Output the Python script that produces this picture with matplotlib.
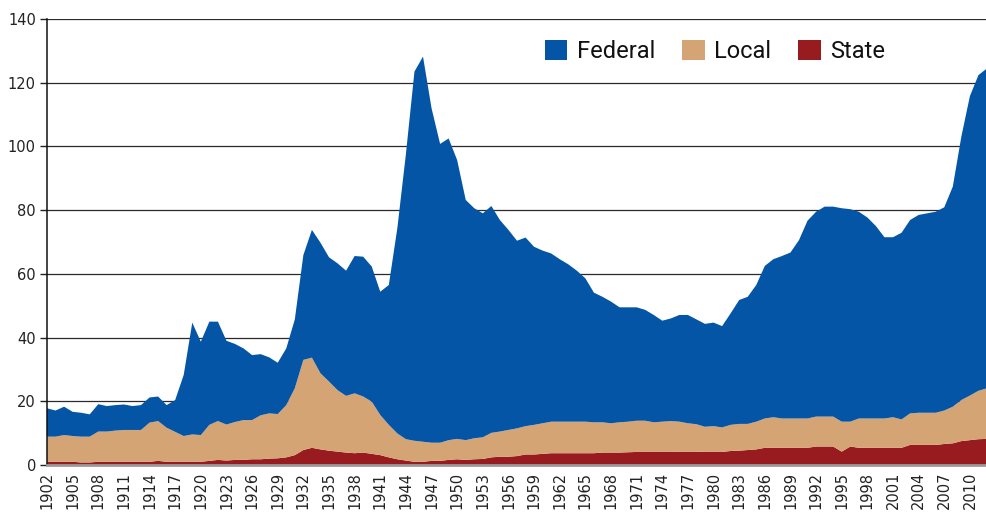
"""
Government debt by level (% of GDP), stacked area chart 1902-2012.
"""

import matplotlib
matplotlib.use('Agg')
import matplotlib.pyplot as plt
import numpy as np

years = list(range(1902, 2013))

state = [1.0, 1.0, 1.0, 1.0, 0.8, 0.8, 1.0, 1.0, 1.0, 1.0,
         1.0, 1.0, 1.0, 1.3, 1.0, 1.0, 1.0, 1.0, 1.0, 1.3,
         1.6, 1.4, 1.6, 1.6, 1.8, 1.8, 2.0, 2.1, 2.4, 3.1,
         4.7, 5.4, 4.9, 4.5, 4.2, 3.9, 3.7, 3.9, 3.5, 3.1,
         2.4, 1.8, 1.4, 1.0, 1.0, 1.3, 1.3, 1.6, 1.8, 1.6,
         1.8, 1.9, 2.4, 2.6, 2.6, 2.8, 3.3, 3.3, 3.5, 3.7,
         3.7, 3.7, 3.7, 3.7, 3.7, 3.9, 3.9, 3.9, 4.0, 4.1,
         4.1, 4.1, 4.1, 4.1, 4.2, 4.2, 4.2, 4.1, 4.1, 4.1,
         4.4, 4.5, 4.7, 4.9, 5.4, 5.4, 5.4, 5.4, 5.4, 5.4,
         5.8, 5.8, 5.8, 4.2, 5.8, 5.4, 5.4, 5.4, 5.4, 5.4,
         5.4, 6.3, 6.3, 6.3, 6.3, 6.6, 6.8, 7.5, 7.8, 8.1,
         8.2]

local = [7.9, 7.9, 8.4, 8.1, 8.1, 8.1, 9.5, 9.5, 9.8, 10.0,
         10.0, 10.0, 12.3, 12.5, 10.7, 9.4, 8.1, 8.6, 8.4, 11.3,
         12.2, 11.3, 11.9, 12.5, 12.3, 13.8, 14.2, 13.9, 16.4, 21.0,
         28.3, 28.3, 23.9, 21.7, 19.3, 17.8, 18.8, 17.6, 16.4, 12.6,
         10.2, 8.1, 6.7, 6.6, 6.3, 5.7, 5.7, 6.2, 6.4, 6.2,
         6.6, 6.8, 7.7, 7.9, 8.4, 8.7, 8.9, 9.3, 9.6, 9.9,
         9.9, 9.9, 9.9, 9.9, 9.7, 9.5, 9.2, 9.5, 9.6, 9.8,
         9.8, 9.3, 9.5, 9.7, 9.4, 8.9, 8.6, 7.9, 8.1, 7.7,
         8.2, 8.4, 8.2, 8.7, 9.2, 9.6, 9.2, 9.2, 9.2, 9.2,
         9.4, 9.4, 9.4, 9.4, 7.8, 9.2, 9.2, 9.2, 9.2, 9.6,
         8.9, 9.9, 10.1, 10.1, 10.1, 10.5, 11.5, 12.9, 14.0, 15.2,
         15.9]

federal = [8.9, 8.2, 8.9, 7.6, 7.5, 7.0, 8.6, 8.0, 8.0, 8.0,
           7.5, 7.8, 7.9, 7.7, 7.1, 10.0, 19.2, 35.1, 29.3, 32.4,
           31.2, 26.3, 24.5, 22.5, 20.4, 19.2, 17.6, 16.1, 17.8, 21.6,
           32.9, 40.1, 41.0, 39.0, 39.8, 39.3, 43.1, 43.9, 42.4, 38.7,
           43.9, 64.5, 89.5, 115.9, 120.9, 105.0, 93.8, 94.7, 87.5, 75.4,
           72.2, 70.3, 71.2, 66.4, 62.8, 58.9, 59.2, 55.9, 54.2, 52.8,
           51.0, 49.4, 47.4, 45.0, 40.7, 39.4, 38.2, 36.1, 35.9, 35.6,
           34.8, 33.7, 31.7, 32.2, 33.5, 34.0, 32.9, 32.3, 32.5, 31.8,
           35.0, 38.9, 39.9, 42.9, 47.9, 49.6, 51.0, 52.1, 56.0, 62.1,
           64.3, 65.9, 65.9, 67.0, 66.7, 64.9, 63.1, 60.4, 56.9, 56.5,
           58.6, 60.7, 62.1, 62.6, 63.1, 63.8, 69.1, 82.7, 94.0, 99.1,
           100.4]

series_names = ['State', 'Local', 'Federal']
series_colors = ['#981B20', '#D5A474', '#0455A5']

tick_years = list(range(1902, 2011, 3))
y_ticks = [0, 20, 40, 60, 80, 100, 120, 140]

fig = plt.figure(figsize=(9.87, 5.15), dpi=100)
ax = fig.add_axes([47 / 987, 50 / 515, (987 - 47) / 987, 446 / 515])

polys = ax.stackplot(years, state, local, federal, colors=series_colors,
                     linewidth=0, zorder=3)

for v in y_ticks[1:]:
    ax.axhline(v, color='#2a2a2a', linewidth=0.9, zorder=1)

ax.set_xlim(1902, 2012)
ax.set_ylim(0, 140)
ax.set_yticks(y_ticks)
ax.set_xticks(tick_years)
ax.set_xticklabels([str(y) for y in tick_years], rotation=90)

ax.tick_params(axis='y', length=5, width=1, color='#222222', pad=3,
               labelsize=10.5, labelcolor='#222222')
ax.tick_params(axis='x', length=0, pad=5, labelsize=10.5, labelcolor='#222222')

for side in ['top', 'right']:
    ax.spines[side].set_visible(False)
ax.spines['left'].set_color('#111111')
ax.spines['left'].set_linewidth(1.1)
ax.spines['left'].set_zorder(5)
ax.spines['bottom'].set_color('#9a9a9a')
ax.spines['bottom'].set_linewidth(2)
ax.spines['bottom'].set_zorder(5)

# legend order: Federal, Local, State
handles = [polys[2], polys[1], polys[0]]
labels = [series_names[2], series_names[1], series_names[0]]
leg = ax.legend(handles, labels, loc='upper right', ncol=3, frameon=False,
                bbox_to_anchor=(885 / 987, 1 - 40 / 515),
                bbox_transform=fig.transFigure,
                prop={'family': 'Roboto', 'size': 17},
                handlelength=0.95, handleheight=0.95, handletextpad=0.4,
                columnspacing=1.15, borderpad=0, borderaxespad=0)
for t in leg.get_texts():
    t.set_color('#111111')

plt.savefig('out.png', dpi=100)
plt.close()
